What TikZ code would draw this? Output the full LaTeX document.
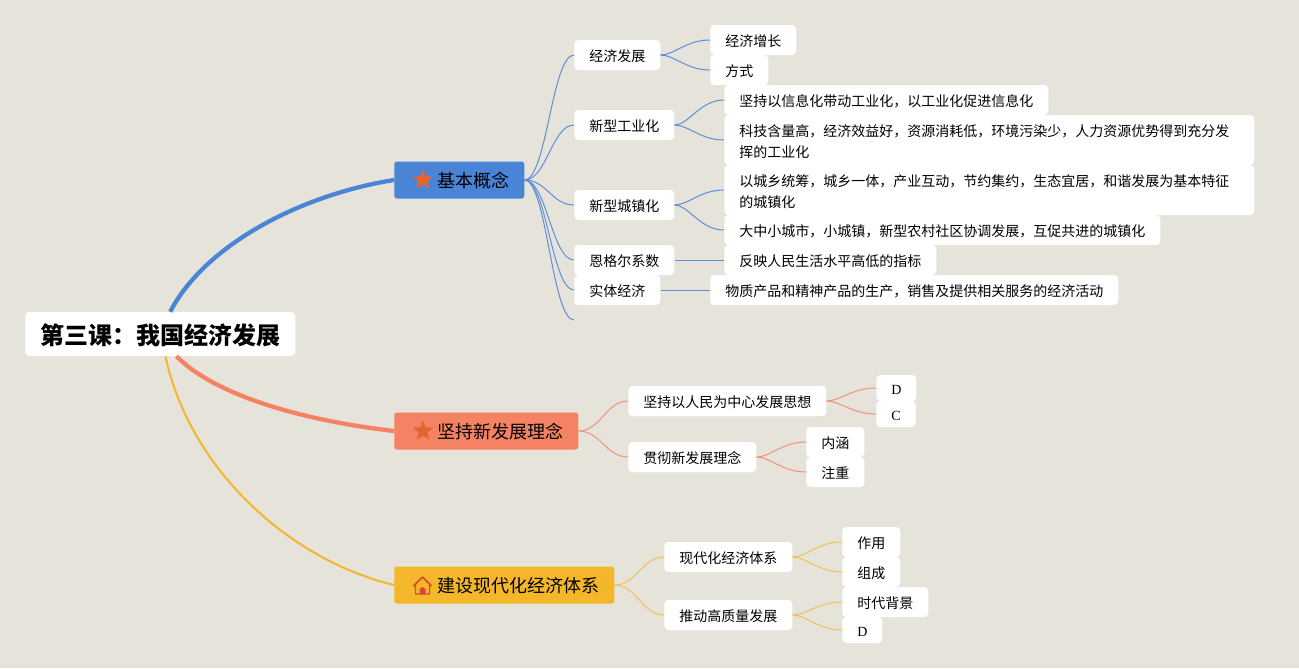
\documentclass[tikz,border=0pt]{standalone}
\usepackage{fontspec}
\setmainfont{Liberation Serif}
\newfontfamily\cjk{Noto Sans CJK SC}
\usetikzlibrary{shapes.geometric}
\definecolor{paper}{HTML}{E6E3DB}
\definecolor{bluetopic}{HTML}{4A84D6}
\definecolor{orangetopic}{HTML}{F58263}
\definecolor{yellowtopic}{HTML}{F4B729}
\definecolor{bluebranch}{HTML}{5E8FD8}
\definecolor{orangebranch}{HTML}{EE9578}
\definecolor{yellowbranch}{HTML}{F2C04F}
\definecolor{starred}{HTML}{E4652F}
\definecolor{housered}{HTML}{E0413A}
\newcommand{\firstline}{\rule{0pt}{11pt}}
\begin{document}
\begin{tikzpicture}
    [
    x=.75pt,y=-.75pt,
    root/.style={fill=white,rounded corners=3pt,anchor=west,inner xsep=11.25pt,inner ysep=0pt,minimum height=33pt,text height=17.7pt,text depth=2pt,font=\cjk\bfseries\fontsize{18}{22}\selectfont},
    topic/.style={rounded corners=2pt,anchor=west,inner xsep=11.25pt,inner ysep=0pt,minimum height=27.75pt,text height=13.5pt,text depth=1.7pt,font=\cjk\fontsize{13.5}{16}\selectfont},
    leaf/.style={fill=white,rounded corners=3pt,anchor=west,inner xsep=11.25pt,inner ysep=0pt,minimum height=22.5pt,text height=11pt,text depth=1.6pt,font=\cjk\fontsize{10.5}{15.75}\selectfont},
    longleaf/.style={fill=white,rounded corners=3pt,anchor=west,inner xsep=11.25pt,inner ysep=0pt,text width=375pt,align=left,minimum height=37.5pt,font=\cjk\fontsize{10.5}{15.75}\selectfont},
    latinleaf/.style={leaf,font=\fontsize{10.5}{15.75}\selectfont,minimum height=19.5pt,text height=10pt,text depth=.8pt},
    starmark/.style={star,star points=5,star point ratio=2.3,fill=starred,inner sep=0pt,minimum size=16pt},
    branch/.style={line width=.75pt,to path={.. controls +(22,0) and +(-22,0) .. (\tikztotarget)}},
    fan/.style={line width=.75pt,to path={.. controls +(14,0) and +(-24,0) .. (\tikztotarget)}}
    ]
    \path [use as bounding box,fill=paper] (0,0) rectangle (1299,668);
    % main topics
    \node (root) at (25,334) [root] {第三课：我国经济发展};
    \node (basic) at (394,180) [topic,fill=bluetopic] {\hspace{21pt}基本概念};
    \node (idea) at (394,431) [topic,fill=orangetopic] {\hspace{21pt}坚持新发展理念};
    \node (system) at (394,585) [topic,fill=yellowtopic] {\hspace{21pt}建设现代化经济体系};
    \node (star1) at (423,180) [starmark] {};
    \node (star2) at (423,431) [starmark] {};
    % house mark
    \draw [housered,line width=1.1pt,line join=round] (413.5,586) -- (422.5,577) -- (431.5,586) (415.5,584) -- (415.5,594) -- (429.5,594) -- (429.5,584);
    \fill [housered] (419.5,594) -- (419.5,589) -- (422.5,587) -- (425.5,589) -- (425.5,594) -- cycle;
    % first branch
    \node (growth) at (574,55) [leaf] {经济发展};
    \node (industry) at (574,125) [leaf] {新型工业化};
    \node (urban) at (574,205) [leaf] {新型城镇化};
    \node (engel) at (574,260) [leaf] {恩格尔系数};
    \node (real) at (574,290) [leaf] {实体经济};
    \coordinate (blank) at (574,320);
    \node (rise) at (710,40) [leaf] {经济增长};
    \node (way) at (710,70) [leaf] {方式};
    \node (info) at (724,100) [leaf] {坚持以信息化带动工业化，以工业化促进信息化};
    \node (tech) at (724,140) [longleaf] {\firstline 科技含量高，经济效益好，资源消耗低，环境污染少，人力资源优势得到充分发\\挥的工业化};
    \node (rural) at (724,190) [longleaf] {\firstline 以城乡统筹，城乡一体，产业互动，节约集约，生态宜居，和谐发展为基本特征\\的城镇化};
    \node (city) at (724,230) [leaf] {大中小城市，小城镇，新型农村社区协调发展，互促共进的城镇化};
    \node (level) at (724,260) [leaf] {反映人民生活水平高低的指标};
    \node (goods) at (710,290) [leaf] {物质产品和精神产品的生产，销售及提供相关服务的经济活动};
    % second branch
    \node (people) at (628,401) [leaf] {坚持以人民为中心发展思想};
    \node (carry) at (628,457) [leaf] {贯彻新发展理念};
    \node (d1) at (876,388) [latinleaf] {D};
    \node (c1) at (876,414) [latinleaf] {C};
    \node (mean) at (806,442) [leaf] {内涵};
    \node (focus) at (806,472) [leaf] {注重};
    % third branch
    \node (modern) at (664,557) [leaf] {现代化经济体系};
    \node (quality) at (664,615) [leaf] {推动高质量发展};
    \node (role) at (842,542) [leaf] {作用};
    \node (part) at (842,572) [leaf] {组成};
    \node (era) at (842,602) [leaf] {时代背景};
    \node (d2) at (842,630) [latinleaf] {D};
    % connectors
    \draw [bluetopic,line width=3.2pt] (root.66) .. controls (205,245) and (300,195) .. (basic.west);
    \draw [orangetopic,line width=3.2pt] (root.-54) .. controls (215,395) and (300,420) .. (idea.west);
    \draw [yellowtopic,line width=1.5pt] (root.-77) .. controls (190,470) and (290,560) .. (system.west);
    \draw [bluebranch,branch] (basic.east) to (growth.west);
    \draw [bluebranch,branch] (basic.east) to (industry.west);
    \draw [bluebranch,branch] (basic.east) to (urban.west);
    \draw [bluebranch,branch] (basic.east) to (engel.west);
    \draw [bluebranch,branch] (basic.east) to (real.west);
    \draw [bluebranch,branch] (basic.east) to (blank);
    \draw [bluebranch,fan] (growth.east) to (rise.west);
    \draw [bluebranch,fan] (growth.east) to (way.west);
    \draw [bluebranch,fan] (industry.east) to (info.west);
    \draw [bluebranch,fan] (industry.east) to (tech.west);
    \draw [bluebranch,fan] (urban.east) to (rural.west);
    \draw [bluebranch,fan] (urban.east) to (city.west);
    \draw [bluebranch] (engel) to (level);
    \draw [bluebranch] (real) to (goods);
    \draw [orangebranch,branch] (idea.east) to (people.west);
    \draw [orangebranch,branch] (idea.east) to (carry.west);
    \draw [orangebranch,fan] (people.east) to (d1.west);
    \draw [orangebranch,fan] (people.east) to (c1.west);
    \draw [orangebranch,fan] (carry.east) to (mean.west);
    \draw [orangebranch,fan] (carry.east) to (focus.west);
    \draw [yellowbranch,branch] (system.east) to (modern.west);
    \draw [yellowbranch,branch] (system.east) to (quality.west);
    \draw [yellowbranch,fan] (modern.east) to (role.west);
    \draw [yellowbranch,fan] (modern.east) to (part.west);
    \draw [yellowbranch,fan] (quality.east) to (era.west);
    \draw [yellowbranch,fan] (quality.east) to (d2.west);
  \end{tikzpicture}
\end{document}
